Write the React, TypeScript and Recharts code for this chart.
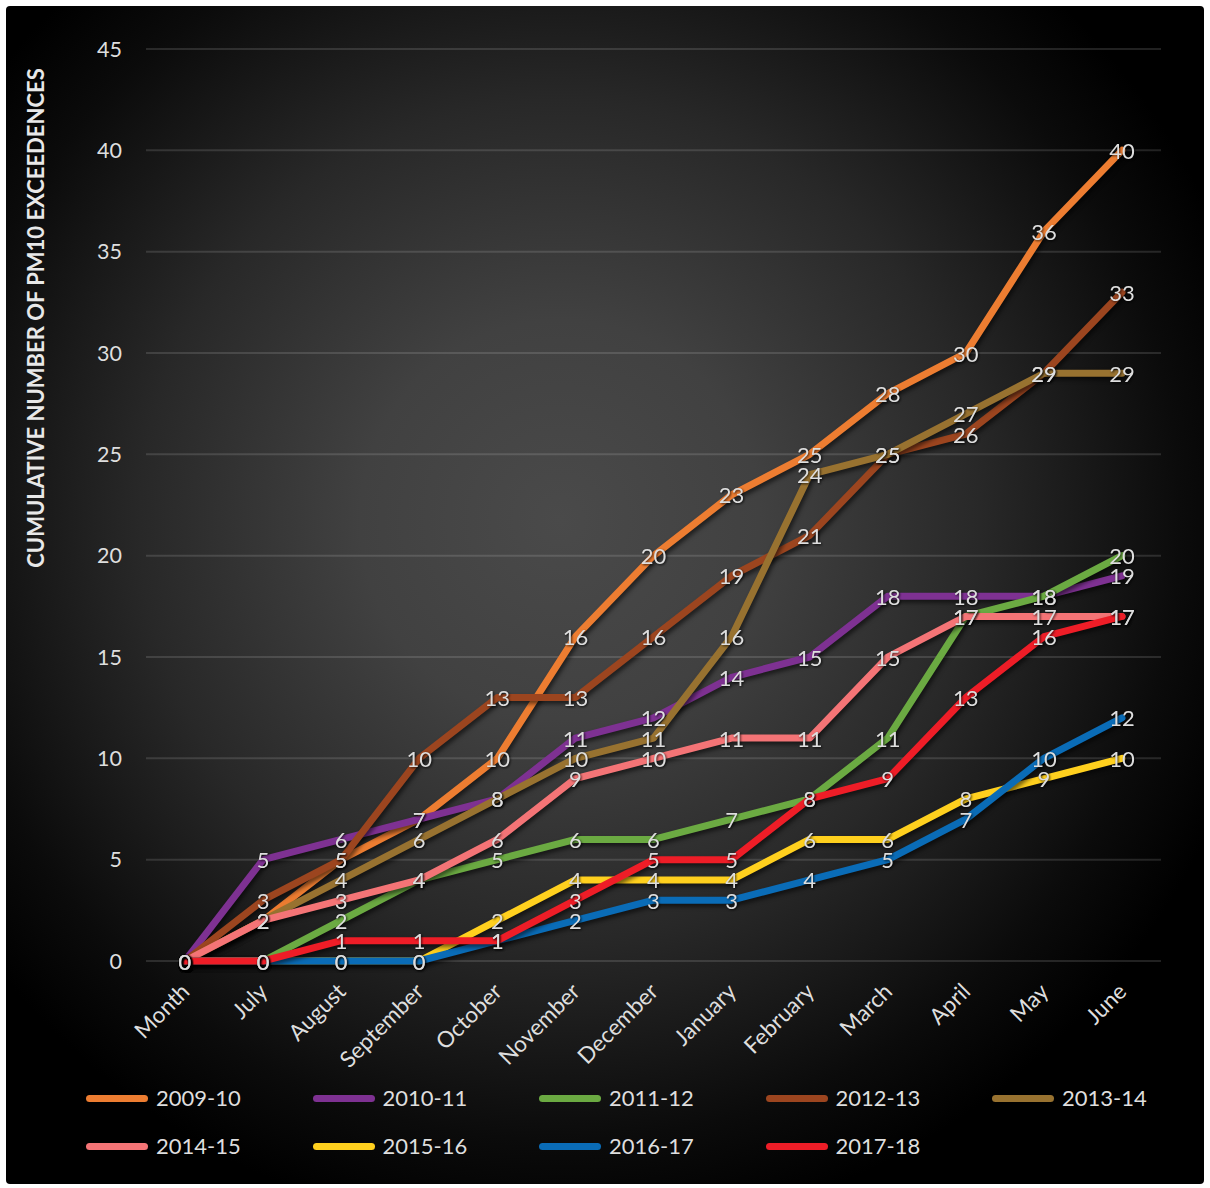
import { LineChart, Line, XAxis, YAxis, CartesianGrid, LabelList } from 'recharts';

const months = ['Month', 'July', 'August', 'September', 'October', 'November', 'December', 'January', 'February', 'March', 'April', 'May', 'June'];
const yTicks = [0, 5, 10, 15, 20, 25, 30, 35, 40, 45];

const s2009 = [0, 2, 5, 7, 10, 16, 20, 23, 25, 28, 30, 36, 40];
const s2010 = [0, 5, 6, 7, 8, 11, 12, 14, 15, 18, 18, 18, 19];
const s2011 = [0, 0, 2, 4, 5, 6, 6, 7, 8, 11, 17, 18, 20];
const s2012 = [0, 3, 5, 10, 13, 13, 16, 19, 21, 25, 26, 29, 33];
const s2013 = [0, 2, 4, 6, 8, 10, 11, 16, 24, 25, 27, 29, 29];
const s2014 = [0, 2, 3, 4, 6, 9, 10, 11, 11, 15, 17, 17, 17];
const s2015 = [0, 0, 0, 0, 2, 4, 4, 4, 6, 6, 8, 9, 10];
const s2016 = [0, 0, 0, 0, 1, 2, 3, 3, 4, 5, 7, 10, 12];
const s2017 = [0, 0, 1, 1, 1, 3, 5, 5, 8, 9, 13, 16, 17];

const series = [
  { key: '2009-10', values: s2009, color: '#ED7D31' },
  { key: '2010-11', values: s2010, color: '#7E3192' },
  { key: '2011-12', values: s2011, color: '#6BAA42' },
  { key: '2012-13', values: s2012, color: '#9C451F' },
  { key: '2013-14', values: s2013, color: '#987230' },
  { key: '2014-15', values: s2014, color: '#F47476' },
  { key: '2015-16', values: s2015, color: '#FFD01E' },
  { key: '2016-17', values: s2016, color: '#0A6CB7' },
  { key: '2017-18', values: s2017, color: '#EE1D27' },
];

const data = months.map((m, i) => {
  const row: Record<string, string | number> = { month: m };
  series.forEach((s) => (row[s.key] = s.values[i]));
  return row;
});

const FONT = 'Lato, "Open Sans", sans-serif';
const TEXT = '#dedede';

const XTick = ({ x, y, payload }: any) => {
  const px = x + 6;
  const py = y + 32;
  return (
    <text x={px} y={py} transform={`rotate(-45 ${px} ${py})`} textAnchor="end" fill={TEXT} fontSize={22.5} fontFamily={FONT}>
      {payload.value}
    </text>
  );
};

const YTitle = () => (
  <text
    x={35}
    y={318}
    transform="rotate(-90 35 318)"
    textAnchor="middle"
    dominantBaseline="central"
    fill="#e8e8e8"
    fontSize={22}
    fontWeight={700}
    fontFamily={FONT}
  >
    CUMULATIVE NUMBER OF PM10 EXCEEDENCES
  </text>
);

const PointLabel = (props: any) => {
  const { x, y, value } = props;
  return (
    <text
      x={x}
      y={y}
      textAnchor="middle"
      dominantBaseline="central"
      fill={TEXT}
      fontSize={22}
      fontFamily={FONT}
      style={{ filter: 'drop-shadow(1px 1px 1px rgba(0,0,0,0.75))' }}
    >
      {value}
    </text>
  );
};

export default function App() {
  return (
    <div style={{ position: 'relative', width: 1210, height: 1188, background: '#fff', fontFamily: FONT }}>
      <style>{`body{margin:0} .recharts-line-curve{filter:drop-shadow(2px 3px 2px rgba(0,0,0,0.55))}`}</style>
      <div
        style={{
          position: 'absolute',
          left: 6,
          top: 6,
          width: 1198,
          height: 1178,
          borderRadius: 4,
          background:
            'radial-gradient(circle at 554px 514px, #4a4a4a 0px, #414141 200px, #282828 420px, #0b0b0b 620px, #000 720px)',
        }}
      />
      <div style={{ position: 'absolute', left: 0, top: 0 }}>
        <LineChart width={1210} height={1188} data={data} margin={{ top: 49, right: 49, bottom: 167, left: 0 }}>
          <CartesianGrid vertical={false} stroke="rgba(255,255,255,0.13)" strokeWidth={2} />
          <XAxis
            dataKey="month"
            height={60}
            axisLine={false}
            tickLine={false}
            tickSize={0}
            tickMargin={0}
            interval={0}
            padding={{ left: 39, right: 39 }}
            tick={<XTick />}
          />
          <YAxis
            width={146}
            domain={[0, 45]}
            ticks={yTicks}
            axisLine={false}
            tickLine={false}
            tickSize={0}
            tickMargin={24}
            tick={{ fill: TEXT, fontSize: 21.5, fontFamily: FONT }}
            label={<YTitle />}
          />
          {series.map((s) => (
            <Line
              key={s.key}
              type="linear"
              dataKey={s.key}
              stroke={s.color}
              strokeWidth={7}
              strokeLinecap="round"
              strokeLinejoin="round"
              dot={false}
              activeDot={false}
              isAnimationActive={false}
            />
          ))}
          {series.map((s) => (
            <Line
              key={s.key + '-labels'}
              type="linear"
              dataKey={s.key}
              stroke="none"
              dot={false}
              activeDot={false}
              isAnimationActive={false}
            >
              <LabelList dataKey={s.key} content={<PointLabel />} />
            </Line>
          ))}
        </LineChart>
      </div>
      {series.map((s, i) => {
        const col = i % 5;
        const row = Math.floor(i / 5);
        return (
          <div
            key={s.key}
            style={{
              position: 'absolute',
              left: 86 + col * 226.5,
              top: 1098 + row * 48 - 15,
              height: 30,
              display: 'flex',
              alignItems: 'center',
            }}
          >
            <div style={{ width: 62, height: 7, borderRadius: 4, background: s.color }} />
            <span style={{ marginLeft: 8, color: TEXT, fontSize: 22, lineHeight: '30px' }}>{s.key}</span>
          </div>
        );
      })}
    </div>
  );
}
